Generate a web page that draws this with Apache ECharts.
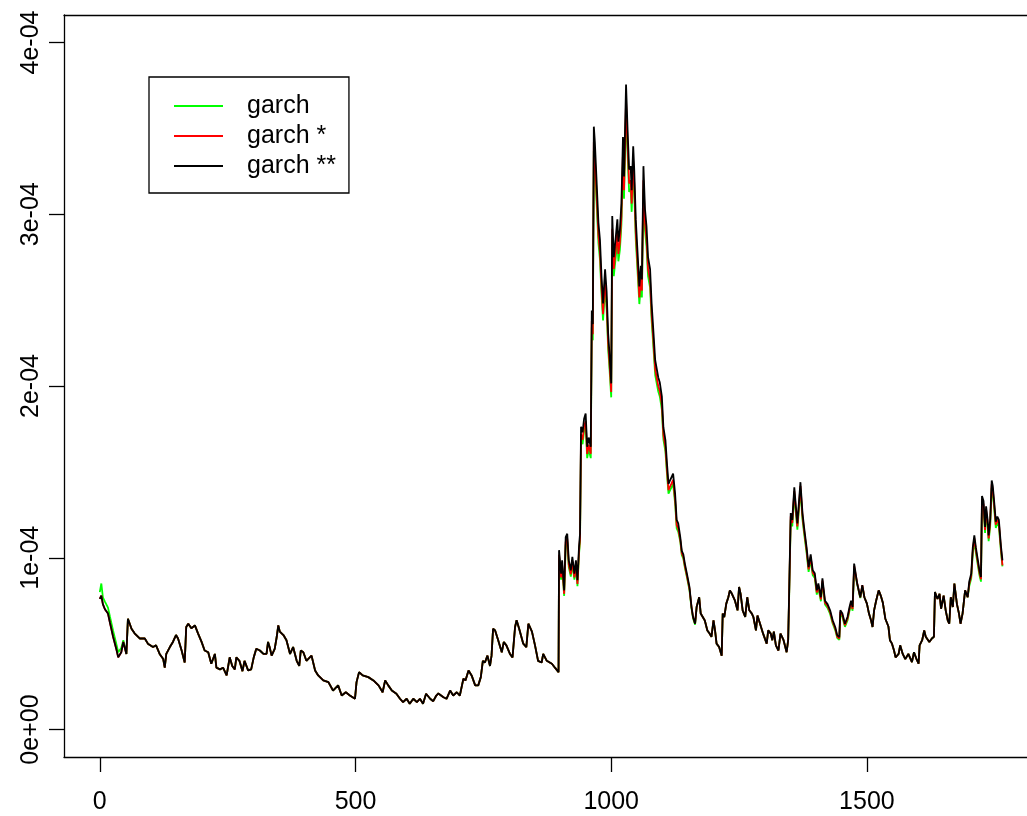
<!DOCTYPE html>
<html>
<head>
<meta charset="utf-8">
<script src="https://cdn.jsdelivr.net/npm/echarts@6/dist/echarts.min.js"></script>
<style>html,body{margin:0;padding:0;background:#fff}#chart{width:1027px;height:816px}</style>
</head>
<body>
<div id="chart"></div>
<script>
// Series names (legend)
const seriesNames = ['garch', 'garch *', 'garch **'];
// Observation index (x) sampled along the series
const steps = [
0,3,6,10,16,20,26,33,36,42,46,
52,55,62,68,78,88,94,104,110,117,
124,127,130,137,143,149,153,160,166,169,
173,179,186,192,199,205,212,218,225,228,
235,241,248,254,259,264,267,273,279,283,
290,296,301,306,313,320,326,329,332,336,
342,346,349,352,359,365,372,378,385,390,
393,398,404,414,421,427,437,447,456,466,
473,481,489,499,502,507,514,525,535,545,
553,558,564,571,580,587,593,600,606,613,
620,626,632,638,646,652,658,662,672,678,
685,691,698,704,711,715,721,727,734,740,
745,749,753,758,763,766,769,773,779,786,
790,795,802,807,812,815,820,828,834,838,
845,851,857,864,867,874,884,890,897,
898,902,904,908,911,914,917,921,924,928,
931,934,937,939,941,944,947,950,953,956,
960,962,964,966,968,971,975,978,981,984,
988,991,994,997,1000,1002,1005,1009,1012,1014,
1017,1020,1023,1025,1029,1032,1035,1038,1040,1043,
1045,1048,1052,1055,1058,1060,1063,1066,1069,1072,
1076,1079,1082,1086,1089,1092,1095,1099,1102,1106,
1109,1112,1115,1118,1121,1125,1128,1131,1135,1138,
1141,1144,1148,1153,1157,1160,1164,1167,1172,1175,
1179,1183,1188,1192,1196,1200,1203,1206,1211,1216,
1218,1221,1225,1229,1232,1236,1239,1242,1247,1250,
1253,1257,1262,1266,1270,1275,1278,1283,1286,1291,
1297,1304,1307,1312,1315,1318,1322,1327,1331,1337,
1343,1346,1348,1351,1354,1358,1361,1364,1367,1370,
1374,1377,1382,1386,1390,1394,1398,1402,1405,1410,
1413,1418,1423,1428,1433,1438,1442,1446,1448,1452,
1457,1462,1466,1469,1472,1475,1478,1481,1487,1491,
1495,1500,1504,1508,1511,1514,1518,1523,1527,1531,
1536,1542,1545,1549,1553,1556,1562,1565,1570,1575,
1581,1588,1592,1597,1601,1603,1608,1612,1615,1618,
1622,1627,1631,1633,1638,1642,1645,1650,1654,1658,
1661,1664,1668,1671,1676,1680,1683,1687,1692,1697,
1700,1704,1707,1710,1713,1717,1720,1723,1725,1728,
1731,1733,1736,1738,1741,1744,1746,1749,1752,1755,
1758,1762,1765
];
// Values in units of 1e-05
// garch (green)
const garchGreen = [
8.0,8.5,7.7,7.45,7.1,6.55,5.75,4.9,4.5,4.75,5.2,
4.4,6.45,5.87,5.6,5.3,5.3,5.0,4.8,4.9,4.4,
4.1,3.6,4.4,4.8,5.1,5.5,5.3,4.6,3.9,5.97,
6.16,5.9,6.06,5.6,5.1,4.6,4.5,3.83,4.4,3.6,
3.5,3.6,3.15,4.2,3.7,3.5,4.2,4.0,3.4,4.0,
3.44,3.5,4.2,4.7,4.6,4.4,4.4,5.1,4.8,4.3,
4.7,5.4,6.06,5.7,5.5,5.2,4.4,4.8,4.0,3.7,
4.6,4.5,4.0,4.3,3.44,3.15,2.86,2.76,2.27,2.57,
1.98,2.17,1.98,1.79,2.76,3.34,3.15,3.05,2.86,2.57,
2.17,2.86,2.57,2.27,2.08,1.79,1.59,1.79,1.5,1.79,
1.59,1.79,1.5,2.08,1.79,1.65,1.98,2.1,1.88,1.79,
2.27,1.98,2.17,1.98,2.96,2.86,3.44,3.15,2.57,2.57,
3.05,4.0,3.9,4.3,3.7,4.3,5.87,5.77,5.2,4.5,
5.1,4.9,4.4,4.2,5.97,6.36,5.87,5.0,4.8,6.16,
5.7,4.9,4.0,3.9,4.4,4.0,3.83,3.6,3.34,
10.02,8.72,9.46,7.78,10.75,10.94,9.46,8.90,9.65,8.72,
9.46,8.34,10.20,10.94,16.92,16.61,17.38,17.66,15.80,16.32,
15.80,23.42,22.66,33.70,32.83,30.91,28.32,27.36,25.34,23.81,
25.73,24.48,22.15,20.83,19.34,28.70,26.40,27.55,28.51,27.26,
27.94,29.42,33.12,30.91,36.05,33.50,31.30,31.49,30.14,32.59,
31.30,28.51,26.40,24.77,25.92,25.15,31.49,29.09,28.13,26.40,
25.73,23.81,22.46,20.64,20.64,19.68,19.39,18.62,16.90,16.18,
14.88,13.73,13.92,14.11,14.30,13.15,11.71,11.52,10.95,10.15,
9.95,9.43,8.87,8.12,7.05,6.48,6.1,7.13,7.7,6.75,
6.55,6.35,5.77,5.6,5.4,6.36,5.77,5.0,4.8,4.3,
6.75,6.55,7.33,7.7,8.1,7.9,8.0,7.5,6.94,8.3,
7.9,6.94,6.55,7.7,6.94,6.75,6.55,5.77,6.64,6.16,
5.58,5.0,5.77,5.58,5.2,5.7,4.9,4.6,5.58,5.2,
4.5,5.2,7.86,12.22,11.83,13.68,12.61,11.64,12.8,13.97,
12.22,11.45,10.28,9.18,9.89,8.99,8.83,7.86,8.25,7.47,
8.54,7.28,7.08,6.73,6.17,5.79,5.32,5.22,6.73,6.55,
5.98,6.35,6.92,7.28,6.92,9.37,9.46,8.45,7.65,8.35,
7.7,7.33,6.75,6.36,5.97,6.94,7.5,8.1,7.8,7.4,
6.45,6.0,5.2,5.0,4.6,4.2,4.4,4.9,4.4,4.1,
4.4,3.92,4.5,4.1,3.83,4.9,5.2,5.77,5.4,5.5,
5.1,5.3,5.4,8.0,7.6,7.9,7.03,7.8,6.94,6.36,
6.16,7.7,7.13,8.5,7.3,6.75,6.16,6.75,8.1,7.7,
8.34,8.81,10.28,10.96,10.28,9.55,8.99,8.61,13.19,12.9,
11.45,12.61,11.83,10.96,11.83,14.07,13.77,12.8,11.74,12.03,
11.83,10.38,9.5
];
// garch * (red)
const garchRed = [
7.6,7.8,7.3,7.0,6.75,6.2,5.4,4.6,4.2,4.5,5.1,
4.4,6.45,5.87,5.6,5.3,5.3,5.0,4.8,4.9,4.4,
4.1,3.6,4.4,4.8,5.1,5.5,5.3,4.6,3.9,5.97,
6.16,5.9,6.06,5.6,5.1,4.6,4.5,3.83,4.4,3.6,
3.5,3.6,3.15,4.2,3.7,3.5,4.2,4.0,3.4,4.0,
3.44,3.5,4.2,4.7,4.6,4.4,4.4,5.1,4.8,4.3,
4.7,5.4,6.06,5.7,5.5,5.2,4.4,4.8,4.0,3.7,
4.6,4.5,4.0,4.3,3.44,3.15,2.86,2.76,2.27,2.57,
1.98,2.17,1.98,1.79,2.76,3.34,3.15,3.05,2.86,2.57,
2.17,2.86,2.57,2.27,2.08,1.79,1.59,1.79,1.5,1.79,
1.59,1.79,1.5,2.08,1.79,1.65,1.98,2.1,1.88,1.79,
2.27,1.98,2.17,1.98,2.96,2.86,3.44,3.15,2.57,2.57,
3.05,4.0,3.9,4.3,3.7,4.3,5.87,5.77,5.2,4.5,
5.1,4.9,4.4,4.2,5.97,6.36,5.87,5.0,4.8,6.16,
5.7,4.9,4.0,3.9,4.4,4.0,3.83,3.6,3.34,
10.18,8.85,9.60,7.90,10.92,11.12,9.60,9.04,9.80,8.85,
9.60,8.47,10.36,11.12,17.19,16.87,17.65,17.94,16.05,16.58,
16.05,23.79,23.01,34.22,33.35,31.40,28.76,27.79,25.74,24.18,
26.13,24.86,22.49,21.16,19.65,29.15,26.81,27.98,28.96,27.69,
28.37,29.88,33.64,31.40,36.61,34.03,31.79,31.98,30.62,33.10,
31.79,28.96,26.81,25.16,26.33,25.55,31.98,29.54,28.57,26.81,
26.13,24.18,22.82,20.96,20.96,19.99,19.70,18.92,17.16,16.43,
15.11,13.94,14.14,14.33,14.53,13.36,11.90,11.70,11.05,10.25,
10.05,9.52,8.95,8.2,7.13,6.55,6.16,7.13,7.7,6.75,
6.55,6.35,5.77,5.6,5.4,6.36,5.77,5.0,4.8,4.3,
6.75,6.55,7.33,7.7,8.1,7.9,8.0,7.5,6.94,8.3,
7.9,6.94,6.55,7.7,6.94,6.75,6.55,5.77,6.64,6.16,
5.58,5.0,5.77,5.58,5.2,5.7,4.9,4.6,5.58,5.2,
4.5,5.2,7.98,12.41,12.02,13.89,12.81,11.82,13.0,14.18,
12.41,11.62,10.44,9.32,10.05,9.13,8.96,7.98,8.37,7.58,
8.67,7.39,7.19,6.84,6.26,5.88,5.40,5.30,6.84,6.65,
6.07,6.45,7.02,7.39,7.02,9.52,9.60,8.5,7.7,8.4,
7.7,7.33,6.75,6.36,5.97,6.94,7.5,8.1,7.8,7.4,
6.45,6.0,5.2,5.0,4.6,4.2,4.4,4.9,4.4,4.1,
4.4,3.92,4.5,4.1,3.83,4.9,5.2,5.77,5.4,5.5,
5.1,5.3,5.4,8.0,7.6,7.9,7.03,7.8,6.94,6.36,
6.16,7.7,7.13,8.5,7.3,6.75,6.16,6.75,8.1,7.7,
8.47,8.94,10.44,11.13,10.44,9.70,9.13,8.75,13.4,13.1,
11.62,12.81,12.02,11.13,12.02,14.28,13.99,13.0,11.92,12.21,
12.02,10.54,9.56
];
// garch ** (black)
const garchBlack = [
7.6,7.8,7.3,7.0,6.75,6.2,5.4,4.6,4.2,4.5,5.1,
4.4,6.45,5.87,5.6,5.3,5.3,5.0,4.8,4.9,4.4,
4.1,3.6,4.4,4.8,5.1,5.5,5.3,4.6,3.9,5.97,
6.16,5.9,6.06,5.6,5.1,4.6,4.5,3.83,4.4,3.6,
3.5,3.6,3.15,4.2,3.7,3.5,4.2,4.0,3.4,4.0,
3.44,3.5,4.2,4.7,4.6,4.4,4.4,5.1,4.8,4.3,
4.7,5.4,6.06,5.7,5.5,5.2,4.4,4.8,4.0,3.7,
4.6,4.5,4.0,4.3,3.44,3.15,2.86,2.76,2.27,2.57,
1.98,2.17,1.98,1.79,2.76,3.34,3.15,3.05,2.86,2.57,
2.17,2.86,2.57,2.27,2.08,1.79,1.59,1.79,1.5,1.79,
1.59,1.79,1.5,2.08,1.79,1.65,1.98,2.1,1.88,1.79,
2.27,1.98,2.17,1.98,2.96,2.86,3.44,3.15,2.57,2.57,
3.05,4.0,3.9,4.3,3.7,4.3,5.87,5.77,5.2,4.5,
5.1,4.9,4.4,4.2,5.97,6.36,5.87,5.0,4.8,6.16,
5.7,4.9,4.0,3.9,4.4,4.0,3.83,3.6,3.34,
10.44,9.08,9.85,8.1,11.2,11.4,9.85,9.27,10.05,9.08,
9.85,8.69,10.63,11.4,17.63,17.3,18.1,18.4,16.46,17.0,
16.46,24.4,23.6,35.1,34.2,32.2,29.5,28.5,26.4,24.8,
26.8,25.5,23.07,21.7,20.15,29.9,27.5,28.7,29.7,28.4,
29.1,30.65,34.5,32.2,37.55,34.9,32.6,32.8,31.4,33.95,
32.6,29.7,27.5,25.8,27.0,26.2,32.8,30.3,29.3,27.5,
26.8,24.8,23.4,21.5,21.5,20.5,20.2,19.4,17.6,16.85,
15.5,14.3,14.5,14.7,14.9,13.7,12.2,12.0,11.2,10.4,
10.2,9.66,9.08,8.3,7.13,6.55,6.16,7.13,7.7,6.75,
6.55,6.35,5.77,5.6,5.4,6.36,5.77,5.0,4.8,4.3,
6.75,6.55,7.33,7.7,8.1,7.9,8.0,7.5,6.94,8.3,
7.9,6.94,6.55,7.7,6.94,6.75,6.55,5.77,6.64,6.16,
5.58,5.0,5.77,5.58,5.2,5.7,4.9,4.6,5.58,5.2,
4.5,5.2,8.1,12.6,12.2,14.1,13.0,12.0,13.2,14.4,
12.6,11.8,10.6,9.46,10.2,9.27,9.1,8.1,8.5,7.7,
8.8,7.5,7.3,6.94,6.36,5.97,5.48,5.38,6.94,6.75,
6.16,6.55,7.13,7.5,7.13,9.66,9.75,8.5,7.7,8.4,
7.7,7.33,6.75,6.36,5.97,6.94,7.5,8.1,7.8,7.4,
6.45,6.0,5.2,5.0,4.6,4.2,4.4,4.9,4.4,4.1,
4.4,3.92,4.5,4.1,3.83,4.9,5.2,5.77,5.4,5.5,
5.1,5.3,5.4,8.0,7.6,7.9,7.03,7.8,6.94,6.36,
6.16,7.7,7.13,8.5,7.3,6.75,6.16,6.75,8.1,7.7,
8.6,9.08,10.6,11.3,10.6,9.85,9.27,8.88,13.6,13.3,
11.8,13.0,12.2,11.3,12.2,14.5,14.2,13.2,12.1,12.4,
12.2,10.7,9.85
];
// Axis ticks
const xTickValues = [0, 500, 1000, 1500];
const xTickLabels = ['0', '500', '1000', '1500'];
const yTickValues = [0, 10, 20, 30, 40];            // units of 1e-05
const yTickLabels = ['0e+00', '1e-04', '2e-04', '3e-04', '4e-04'];
const seriesColors = ['#00ff00', '#ff0000', '#000000'];

const valueArrays = [garchGreen, garchRed, garchBlack];
const FONT = 'Liberation Sans, Arial, sans-serif';

const chart = echarts.init(document.getElementById('chart'), null, {renderer: 'canvas'});
const axisLineStyle = {color: '#000', width: 1.3};

chart.setOption({
  animation: false,
  backgroundColor: '#fff',
  grid: {left: 64, right: 0, top: 15, bottom: 59, containLabel: false},
  legend: {
    orient: 'vertical',
    left: 149, top: 77,
    borderColor: '#000', borderWidth: 1.3,
    padding: [16, 13, 14, 25],
    icon: 'rect',
    itemWidth: 49, itemHeight: 2, itemGap: 4,
    data: seriesNames,
    textStyle: {fontFamily: FONT, fontSize: 25, color: '#000', lineHeight: 26, padding: [0, 0, 0, 19]}
  },
  xAxis: [{
    type: 'value', min: -70, max: 1813, position: 'bottom',
    axisLine: {show: true, onZero: false, lineStyle: axisLineStyle},
    axisTick: {show: true, length: 15, customValues: xTickValues, lineStyle: {color: '#000', width: 1.3}},
    axisLabel: {
      customValues: xTickValues, margin: 33, fontSize: 25, color: '#000', fontFamily: FONT,
      formatter: v => xTickLabels[xTickValues.indexOf(Math.round(v))]
    },
    splitLine: {show: false}
  }, {
    type: 'value', min: -70, max: 1813, position: 'top',
    axisLine: {show: true, onZero: false, lineStyle: axisLineStyle},
    axisTick: {show: false}, axisLabel: {show: false}, splitLine: {show: false}
  }],
  yAxis: {
    type: 'value', min: -1.6, max: 41.6,
    axisLine: {show: true, onZero: false, lineStyle: axisLineStyle},
    axisTick: {show: true, length: 15, customValues: yTickValues, lineStyle: {color: '#000', width: 1.3}},
    axisLabel: {
      customValues: yTickValues, rotate: 90, margin: 20, fontSize: 25, color: '#000', fontFamily: FONT,
      formatter: v => yTickLabels[Math.round(v / 10)]
    },
    splitLine: {show: false}
  },
  series: seriesNames.map((name, k) => ({
    name: name,
    type: 'line',
    xAxisIndex: 0,
    symbol: 'none',
    color: seriesColors[k],
    lineStyle: {color: seriesColors[k], width: 1.8},
    data: steps.map((t, i) => [t, valueArrays[k][i]])
  }))
});
</script>
</body>
</html>
